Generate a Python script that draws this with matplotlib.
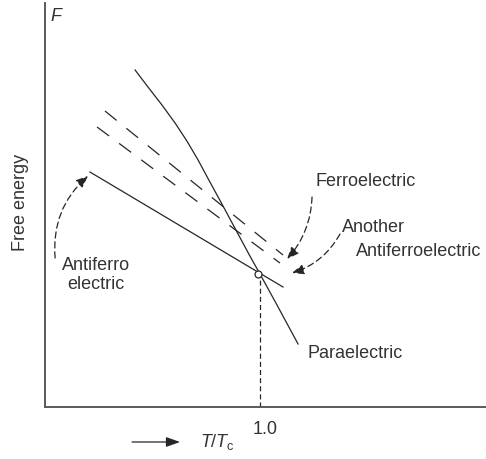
import matplotlib
matplotlib.use("Agg")
from matplotlib import pyplot as plt

plt.rcParams['font.family'] = ['Liberation Sans', 'DejaVu Sans']
plt.rcParams['mathtext.fontset'] = 'custom'
plt.rcParams['mathtext.it'] = 'Liberation Sans:italic'
plt.rcParams['mathtext.rm'] = 'Liberation Sans'

# free energy curves against reduced temperature T/Tc
t_para = [0.419, 0.479, 0.544, 0.605, 0.660, 0.712, 0.767, 0.828, 0.893, 0.953,
          1.000, 1.079, 1.177]
f_para = [3.37, 3.20, 3.02, 2.84, 2.66, 2.47, 2.25, 2.01, 1.75, 1.51,
          1.33, 1.02, 0.63]

t_antiferro = [0.209, 1.107]
f_antiferro = [2.35, 1.20]

t_ferro = [0.279, 1.107]
f_ferro = [2.96, 1.52]

t_another = [0.242, 1.093]
f_another = [2.80, 1.44]

t_crit = 1.0
f_crit = 1.33

line_col = '#262626'
axis_col = '#5a5a5a'
fs = 13

fig = plt.figure(figsize=(4.86, 4.59), dpi=100)
ax = fig.add_axes([45 / 486, 52 / 459, 441 / 486, 404 / 459])
ax.set_xlim(0, 441 / 215)
ax.set_ylim(0, 4.04)
for side in ('top', 'right'):
    ax.spines[side].set_visible(False)
for side in ('left', 'bottom'):
    ax.spines[side].set_color(axis_col)
    ax.spines[side].set_linewidth(1.4)
ax.set_xticks([])
ax.set_yticks([])

ax.plot(t_para, f_para, color=line_col, lw=0.9)
ax.plot(t_antiferro, f_antiferro, color=line_col, lw=0.9)
ax.plot(t_ferro, f_ferro, color=line_col, lw=0.9, dashes=(12, 10))
ax.plot(t_another, f_another, color=line_col, lw=0.9, dashes=(12, 10))
ax.plot([t_crit, t_crit], [0, f_crit - 0.05], color=line_col, lw=0.9, dashes=(4, 2.5))
ax.plot([t_crit - 0.01], [f_crit], marker='o', ms=5, mfc='white', mec=line_col, mew=0.9)

# curved leaders pointing at the curves
head = '-|>,head_length=0.6,head_width=0.25'
leaders = [
    ((0.200, 2.31), (0.047, 1.49), -0.25),
    ((1.126, 1.48), (1.242, 2.10), -0.18),
    ((1.149, 1.34), (1.372, 1.73), -0.20),
]
for tip, start, rad in leaders:
    ax.annotate('', xy=tip, xytext=start, annotation_clip=False,
                arrowprops=dict(arrowstyle=head, connectionstyle='arc3,rad=%s' % rad,
                                color=line_col, lw=0.9, linestyle=(0, (5, 3)),
                                mutation_scale=12, shrinkA=0, shrinkB=0))

ax.text(0.023, 3.91, 'F', fontsize=fs, style='italic', color='#333', va='center')
ax.text(-0.116, 2.05, 'Free energy', fontsize=fs, rotation=90, color='#333',
        ha='center', va='center', clip_on=False)
ax.text(0.237, 1.32, 'Antiferro\nelectric', fontsize=fs, color='#333',
        ha='center', va='center', linespacing=1.1)
ax.text(1.256, 2.26, 'Ferroelectric', fontsize=fs, color='#333', va='center')
ax.text(1.381, 1.80, 'Another', fontsize=fs, color='#333', va='center')
ax.text(1.447, 1.56, 'Antiferroelectric', fontsize=fs, color='#333', va='center')
ax.text(1.219, 0.54, 'Paraelectric', fontsize=fs, color='#333', va='center')
ax.text(1.023, -0.23, '1.0', fontsize=fs, color='#333', ha='center', va='center',
        clip_on=False)
ax.text(0.721, -0.35, r'$T/T_\mathrm{c}$', fontsize=fs, color='#333', va='center',
        clip_on=False)
ax.annotate('', xy=(0.628, -0.35), xytext=(0.405, -0.35), annotation_clip=False,
            arrowprops=dict(arrowstyle='-|>,head_length=0.7,head_width=0.25',
                            color=line_col, lw=0.9, mutation_scale=12,
                            shrinkA=0, shrinkB=0))

fig.savefig('out.png', dpi=100)
